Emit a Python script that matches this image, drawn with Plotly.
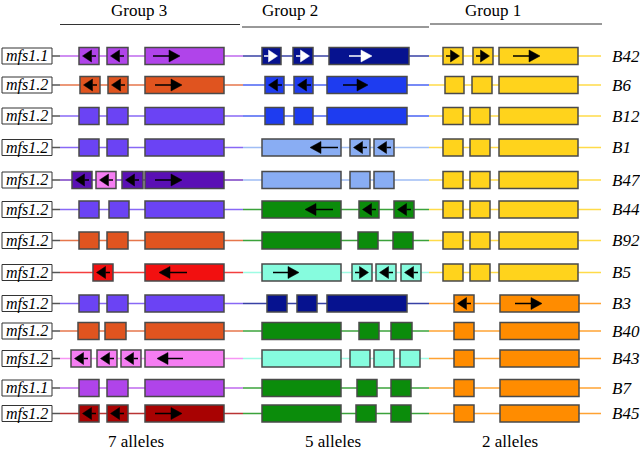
import plotly.graph_objects as go

# ---------------- data ----------------
strains = ["B42", "B6", "B12", "B1", "B47", "B44", "B92", "B5", "B3", "B40", "B43", "B7", "B45"]
loci = ["mfs1.1", "mfs1.2", "mfs1.2", "mfs1.2", "mfs1.2", "mfs1.2", "mfs1.2",
        "mfs1.2", "mfs1.2", "mfs1.2", "mfs1.2", "mfs1.1", "mfs1.2"]
row_y = [56, 85, 116, 147.5, 180, 209.5, 240.5, 272.5, 303.5, 331, 358.5, 388, 413.5]

group_titles = ["Group 3", "Group 2", "Group 1"]
allele_counts = ["7 alleles", "5 alleles", "2 alleles"]

PURPLE = "#B044EA"; ORANGE_RED = "#E0541F"; VIOLET = "#6B43F4"; DVIOLET = "#5A10B5"
PINK = "#F57DF2"; RED = "#F21010"; DRED = "#A80202"; NAVY = "#06128F"; BLUE = "#1E3CF0"
LBLUE = "#89ADF3"; GREEN = "#0B8C0B"; CYAN = "#86FCDE"; YELLOW = "#FFD31C"; ORANGE = "#FF8C00"

# exon = [start, end, colour, arrow]; arrow: None, "L", "R", ("LA", a, b), ("RA", a, b)
group3 = [
    [[79, 99, PURPLE, "L"], [107, 128, PURPLE, "L"], [145, 224, PURPLE, ("RA", 153, 180)]],
    [[80, 100, ORANGE_RED, "L"], [108, 128, ORANGE_RED, "L"], [145, 224, ORANGE_RED, ("RA", 155, 182)]],
    [[79, 99, VIOLET, None], [107, 128, VIOLET, None], [145, 224, VIOLET, None]],
    [[79, 99, VIOLET, None], [107, 128, VIOLET, None], [145, 224, VIOLET, None]],
    [[72, 92, DVIOLET, "L"], [96, 116, PINK, "L"], [122, 143, DVIOLET, "L"], [145, 224, DVIOLET, ("RA", 155, 182)]],
    [[79, 99, VIOLET, None], [109, 129, VIOLET, None], [145, 224, VIOLET, None]],
    [[79, 99, ORANGE_RED, None], [107, 128, ORANGE_RED, None], [145, 224, ORANGE_RED, None]],
    [[93, 113, RED, "L"], [145, 224, RED, ("LA", 159, 187)]],
    [[79, 99, VIOLET, None], [107, 128, VIOLET, None], [145, 224, VIOLET, None]],
    [[78, 99, ORANGE_RED, None], [105, 126, ORANGE_RED, None], [145, 224, ORANGE_RED, None]],
    [[71, 91, PINK, "L"], [97, 117, PINK, "L"], [121, 141, PINK, "L"], [145, 224, PINK, ("LA", 157, 183)]],
    [[79, 99, PURPLE, None], [107, 128, PURPLE, None], [145, 224, PURPLE, None]],
    [[79, 99, DRED, "L"], [107, 128, DRED, "L"], [145, 224, DRED, ("RA", 155, 182)]],
]
group2 = [
    [[262, 281, NAVY, "R"], [293, 313, NAVY, "R"], [329, 409, NAVY, ("RA", 349, 372)]],
    [[265, 284, BLUE, "L"], [294, 313, BLUE, "L"], [327, 407, BLUE, ("RA", 343, 368)]],
    [[265, 284, BLUE, None], [294, 313, BLUE, None], [327, 407, BLUE, None]],
    [[262, 341, LBLUE, ("LA", 310, 338)], [350, 370, LBLUE, "L"], [374, 394, LBLUE, "L"]],
    [[262, 341, LBLUE, None], [350, 370, LBLUE, None], [374, 394, LBLUE, None]],
    [[262, 341, GREEN, ("LA", 305, 333)], [359, 379, GREEN, "L"], [394, 414, GREEN, "L"]],
    [[262, 341, GREEN, None], [358, 378, GREEN, None], [393, 413, GREEN, None]],
    [[262, 341, CYAN, ("RA", 273, 299)], [352, 372, CYAN, "R"], [376, 396, CYAN, "L"], [401, 421, CYAN, "L"]],
    [[267, 287, NAVY, None], [297, 317, NAVY, None], [327, 407, NAVY, None]],
    [[262, 341, GREEN, None], [359, 379, GREEN, None], [391, 412, GREEN, None]],
    [[262, 341, CYAN, None], [350, 370, CYAN, None], [374, 394, CYAN, None], [400, 420, CYAN, None]],
    [[262, 341, GREEN, None], [357, 377, GREEN, None], [391, 411, GREEN, None]],
    [[262, 341, GREEN, None], [356, 376, GREEN, None], [391, 411, GREEN, None]],
]
G1Y = [[443, 463, YELLOW, None], [470, 490, YELLOW, None], [499, 578, YELLOW, None]]
G1O = [[454, 474, ORANGE, None], [500, 579, ORANGE, None]]
group1 = [
    [[443, 463, YELLOW, "R"], [473, 493, YELLOW, "R"], [499, 578, YELLOW, ("RA", 513, 540)]],
    [[445, 464, YELLOW, None], [472, 492, YELLOW, None], [499, 578, YELLOW, None]],
    G1Y, G1Y, G1Y, G1Y, G1Y, G1Y,
    [[454, 474, ORANGE, "L"], [500, 579, ORANGE, ("RA", 515, 542)]],
    G1O, G1O, G1O, G1O,
]
group_spans = [(60, 243), (243, 429), (429, 601)]
arrow_white_rows = {0}  # B42 group 2 arrows are white

# ---------------- drawing ----------------
SERIF = "Liberation Serif"
EDGE = "#4a4a4a"
HALF = 8.5

shapes = []
annotations = []


def arrow_shapes(x0, x1, y, spec, col):
    out = []
    if spec is None:
        return out
    if spec == "L":
        ap, bs, tl = x0 + 3.5, x0 + 12.5, x0 + 17
        out.append(dict(type="line", x0=bs, x1=tl, y0=y, y1=y, line=dict(color=col, width=1.5)))
        out.append(dict(type="path", path=f"M {ap},{y} L {bs},{y-6} L {bs},{y+6} Z",
                        fillcolor=col, line=dict(color=col, width=0.5)))
    elif spec == "R":
        ap, bs, tl = x1 - 3.5, x1 - 12.5, x1 - 17
        out.append(dict(type="line", x0=tl, x1=bs, y0=y, y1=y, line=dict(color=col, width=1.5)))
        out.append(dict(type="path", path=f"M {ap},{y} L {bs},{y-6} L {bs},{y+6} Z",
                        fillcolor=col, line=dict(color=col, width=0.5)))
    else:
        kind, a, b = spec
        if kind == "RA":
            out.append(dict(type="line", x0=a, x1=b - 8, y0=y, y1=y, line=dict(color=col, width=1.5)))
            out.append(dict(type="path", path=f"M {b},{y} L {b-11},{y-6} L {b-11},{y+6} Z",
                            fillcolor=col, line=dict(color=col, width=0.5)))
        else:
            out.append(dict(type="line", x0=a + 8, x1=b, y0=y, y1=y, line=dict(color=col, width=1.5)))
            out.append(dict(type="path", path=f"M {a},{y} L {a+11},{y-6} L {a+11},{y+6} Z",
                            fillcolor=col, line=dict(color=col, width=0.5)))
    return out


for i, y in enumerate(row_y):
    # label box
    shapes.append(dict(type="rect", x0=2, x1=52, y0=y - 8, y1=y + 8, fillcolor="white",
                       line=dict(color="#333333", width=1)))
    annotations.append(dict(x=27, y=y, text=f"<i>{loci[i]}</i>", showarrow=False,
                            font=dict(family=SERIF, size=16, color="black"),
                            xanchor="center", yanchor="middle"))
    shapes.append(dict(type="line", x0=52, x1=60, y0=y, y1=y, line=dict(color="#555555", width=1.5)))
    groups = [group3[i], group2[i], group1[i]]
    # connecting lines
    for g, exons in enumerate(groups):
        big = max(exons, key=lambda e: e[1] - e[0])
        s0, s1 = group_spans[g]
        shapes.append(dict(type="line", x0=s0, x1=s1, y0=y, y1=y, opacity=0.8,
                           line=dict(color=big[2], width=1.5)))
    # exons
    for g, exons in enumerate(groups):
        for x0, x1, col, arr in exons:
            shapes.append(dict(type="rect", x0=x0, x1=x1, y0=y - HALF, y1=y + HALF,
                               fillcolor=col, line=dict(color=EDGE, width=1.5)))
            acol = "white" if (g == 1 and i in arrow_white_rows) else "black"
            shapes.extend(arrow_shapes(x0, x1, y, arr, acol))
    # strain label
    annotations.append(dict(x=610, y=y, text=f"<i>{strains[i]}</i>", showarrow=False,
                            font=dict(family=SERIF, size=17, color="black"),
                            xanchor="left", yanchor="middle"))

# header lines and titles
header_lines = [(60, 240, 24.5), (242, 429, 27), (430, 602, 24)]
title_x = [139, 290, 493]
footer_x = [136, 333, 510]
for k in range(3):
    a, b, yy = header_lines[k]
    shapes.append(dict(type="line", x0=a, x1=b, y0=yy, y1=yy, line=dict(color="#333333", width=1)))
    annotations.append(dict(x=title_x[k], y=10, text=group_titles[k], showarrow=False,
                            font=dict(family=SERIF, size=17, color="black"),
                            xanchor="center", yanchor="middle"))
    annotations.append(dict(x=footer_x[k], y=441, text=allele_counts[k], showarrow=False,
                            font=dict(family=SERIF, size=17, color="black"),
                            xanchor="center", yanchor="middle"))

fig = go.Figure()
fig.add_trace(go.Scatter(x=[0, 640], y=[0, 451], mode="markers",
                         marker=dict(opacity=0), hoverinfo="skip", showlegend=False))
fig.update_layout(
    width=640, height=451,
    margin=dict(l=0, r=0, t=0, b=0),
    paper_bgcolor="white", plot_bgcolor="white",
    font=dict(family=SERIF),
    xaxis=dict(range=[0, 640], visible=False, fixedrange=True),
    yaxis=dict(range=[451, 0], visible=False, fixedrange=True),
    shapes=shapes, annotations=annotations, showlegend=False,
)
fig.write_html("out.html", config={"displayModeBar": False},
               post_script="document.body.style.margin='0';document.body.style.overflow='hidden';")
